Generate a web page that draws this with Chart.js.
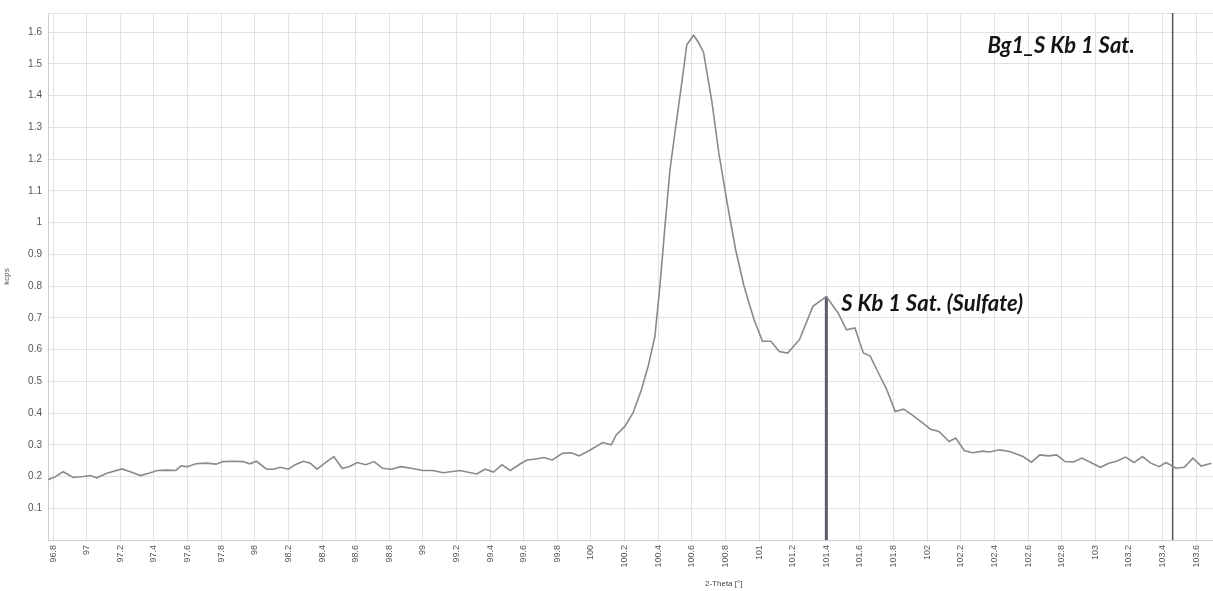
<!DOCTYPE html>
<html>
<head>
<meta charset="utf-8">
<script src="https://cdn.jsdelivr.net/npm/chart.js@4.4.1/dist/chart.umd.min.js"></script>
<style>
  body { margin: 0; background: #fff; }
  #wrap { width: 1213px; height: 591px; }
</style>
</head>
<body>
<div id="wrap"><canvas id="mycanvas" width="1213" height="591"></canvas></div>
<script>
// 2-Theta positions (deg) and count rate (kcps)
var theta = [
  96.77, 96.81, 96.86, 96.92, 96.98, 97.02, 97.06, 97.12, 97.21, 97.26,
  97.32, 97.37, 97.42, 97.48, 97.53, 97.56, 97.60, 97.65, 97.71, 97.77,
  97.81, 97.87, 97.93, 97.97, 98.01, 98.07, 98.11, 98.15, 98.20, 98.24,
  98.29, 98.33, 98.37, 98.42, 98.47, 98.52, 98.56, 98.61, 98.66, 98.71,
  98.76, 98.81, 98.87, 98.93, 99.00, 99.06, 99.12,
  99.22, 99.32, 99.37, 99.42, 99.47, 99.52, 99.58, 99.62, 99.67, 99.72,
  99.77, 99.83, 99.88, 99.93, 99.99, 100.07, 100.12, 100.15, 100.20, 100.25,
  100.30, 100.34, 100.38, 100.41, 100.44, 100.47, 100.51, 100.54, 100.57, 100.61,
  100.64, 100.67, 100.72, 100.76, 100.81, 100.86, 100.91, 100.97, 101.02, 101.07,
  101.12, 101.17, 101.24, 101.32, 101.40,
  101.47, 101.52, 101.57, 101.62, 101.66, 101.71, 101.76, 101.81, 101.86, 101.91,
  101.97, 102.02, 102.07, 102.13, 102.17, 102.22, 102.27, 102.33, 102.37, 102.43,
  102.49, 102.57, 102.62, 102.67, 102.72, 102.77, 102.82, 102.87, 102.92, 102.97,
  103.03, 103.08, 103.13, 103.18, 103.23, 103.28, 103.33, 103.38, 103.42, 103.48,
  103.53, 103.58, 103.63, 103.69
];
var kcps = [
  0.190, 0.198, 0.215, 0.197, 0.200, 0.203, 0.196, 0.210, 0.224, 0.215,
  0.203, 0.210, 0.219, 0.220, 0.219, 0.233, 0.231, 0.240, 0.242, 0.239,
  0.247, 0.248, 0.247, 0.240, 0.248, 0.223, 0.223, 0.229, 0.223, 0.237,
  0.248, 0.242, 0.223, 0.244, 0.263, 0.226, 0.231, 0.244, 0.237, 0.247,
  0.226, 0.223, 0.231, 0.226, 0.219, 0.219, 0.212,
  0.219, 0.208, 0.223, 0.214, 0.237, 0.219, 0.240, 0.252, 0.255, 0.260,
  0.252, 0.273, 0.275, 0.265, 0.282, 0.307, 0.300, 0.331, 0.357, 0.400,
  0.473, 0.547, 0.641, 0.800, 0.988, 1.167, 1.325, 1.440, 1.560, 1.590,
  1.567, 1.535, 1.378, 1.220, 1.062, 0.915, 0.800, 0.694, 0.626, 0.626,
  0.594, 0.589, 0.631, 0.736, 0.767,
  0.715, 0.662, 0.668, 0.589, 0.580, 0.526, 0.473, 0.405, 0.412, 0.394,
  0.370, 0.349, 0.342, 0.310, 0.321, 0.282, 0.275, 0.280, 0.277, 0.284,
  0.279, 0.263, 0.245, 0.268, 0.265, 0.268, 0.247, 0.246, 0.258, 0.245,
  0.229, 0.242, 0.249, 0.261, 0.244, 0.263, 0.242, 0.231, 0.244, 0.226,
  0.229, 0.258, 0.233, 0.242
];

// x tick labels (every 0.2 deg)
var xTicks = [96.8, 97, 97.2, 97.4, 97.6, 97.8, 98, 98.2, 98.4, 98.6, 98.8, 99, 99.2, 99.4,
  99.6, 99.8, 100, 100.2, 100.4, 100.6, 100.8, 101, 101.2, 101.4, 101.6, 101.8, 102,
  102.2, 102.4, 102.6, 102.8, 103, 103.2, 103.4, 103.6];

// line markers
var peakTheta = 101.4;
var peakKcps = 0.767;
var peakLabel = 'S Kb 1 Sat. (Sulfate)';
var bgTheta = 103.46;
var bgLabel = 'Bg1_S Kb 1 Sat.';

var xMin = 96.77, xMax = 103.7, yMax = 1.66;

var points = [];
for (var i in theta) {
  points.push({x: theta[i], y: kcps[i]});
}

var labelPlugin = {
  id: 'peakLabels',
  afterDatasetsDraw: function(chart) {
    var ctx = chart.ctx, x = chart.scales.x, y = chart.scales.y, area = chart.chartArea;
    ctx.save();
    ctx.fillStyle = '#151515';
    ctx.font = 'italic bold 22px Lato';
    ctx.textBaseline = 'middle';
    ctx.textAlign = 'left';
    ctx.fillText(peakLabel, x.getPixelForValue(peakTheta) + 15, y.getPixelForValue(0.745));
    ctx.textAlign = 'right';
    ctx.fillText(bgLabel, x.getPixelForValue(bgTheta) - 38, y.getPixelForValue(1.555));
    // x axis title, sits right of centre in the original
    ctx.font = '8px "Liberation Sans"';
    ctx.fillStyle = '#444';
    ctx.textAlign = 'center';
    ctx.fillText('2-Theta [°]', area.left + (area.right - area.left) * 0.58, 584);
    ctx.restore();
  }
};

var chartdata = {
  datasets: [
    {
      label: 'scan',
      data: points,
      borderColor: '#8a8a8a',
      borderWidth: 1.6,
      pointRadius: 0,
      tension: 0
    },
    {
      label: 'peak',
      data: [{x: peakTheta, y: 0}, {x: peakTheta, y: peakKcps}],
      borderColor: '#5a5e6a',
      borderWidth: 3,
      pointRadius: 0
    },
    {
      label: 'bg',
      data: [{x: bgTheta, y: 0}, {x: bgTheta, y: yMax}],
      borderColor: '#555555',
      borderWidth: 1.5,
      pointRadius: 0
    }
  ]
};

var ctx = document.getElementById('mycanvas');
var graph = new Chart(ctx, {
  type: 'line',
  data: chartdata,
  plugins: [labelPlugin],
  options: {
    responsive: false,
    animation: false,
    devicePixelRatio: 1,
    layout: { padding: { top: 13, right: 0, left: 0, bottom: 0 } },
    plugins: { legend: { display: false }, tooltip: { enabled: false } },
    scales: {
      x: {
        type: 'linear',
        min: xMin,
        max: xMax,
        afterBuildTicks: function(scale) {
          scale.ticks = xTicks.map(function(v) { return {value: v}; });
        },
        afterFit: function(scale) { scale.height = 51; },
        grid: { color: '#e2e2e2', drawTicks: false },
        border: { color: '#d0d0d0' },
        ticks: {
          autoSkip: false,
          minRotation: 90,
          maxRotation: 90,
          padding: 5,
          color: '#555',
          font: { family: 'Liberation Sans', size: 9 },
          callback: function(v) { return String(+v.toFixed(1)); }
        }
      },
      y: {
        min: 0,
        max: yMax,
        afterFit: function(scale) { scale.width = 48; },
        grid: { color: '#e2e2e2', drawTicks: false },
        border: { color: '#d0d0d0' },
        title: {
          display: true,
          text: 'kcps',
          color: '#555',
          font: { family: 'Liberation Sans', size: 8 },
          padding: 2
        },
        ticks: {
          stepSize: 0.1,
          padding: 6,
          color: '#555',
          font: { family: 'Liberation Sans', size: 10 },
          callback: function(v) {
            if (v < 0.05 || v > 1.61) return '';
            return String(+v.toFixed(1));
          }
        }
      }
    }
  }
});
</script>
</body>
</html>
